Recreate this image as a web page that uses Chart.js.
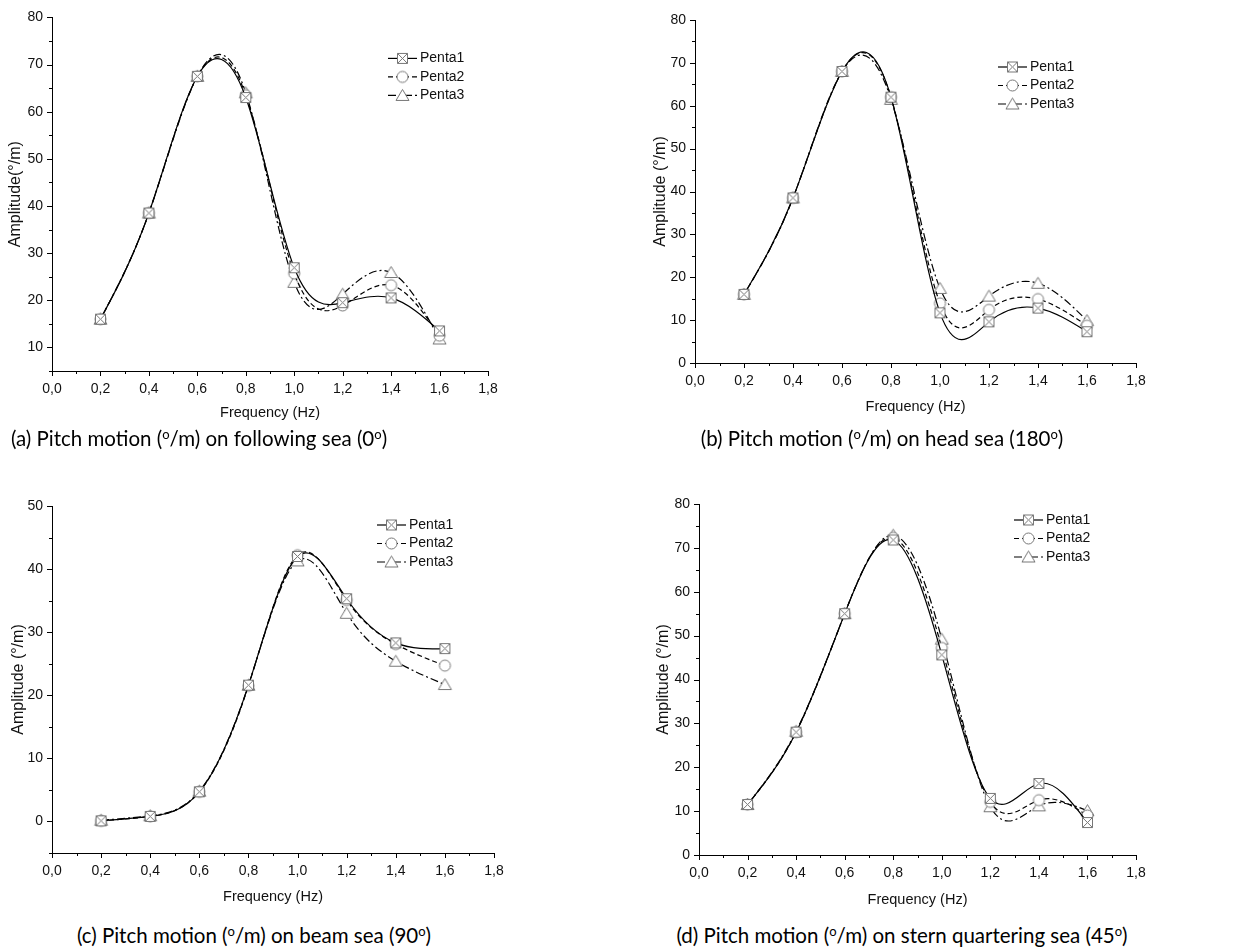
<!DOCTYPE html>
<html>
<head>
<meta charset="utf-8">
<script src="https://cdn.jsdelivr.net/npm/chart.js@4/dist/chart.umd.min.js"></script>
<style>
  body { margin: 0; background: #fff; width: 1257px; height: 951px; position: relative; overflow: hidden; }
  .box { position: absolute; }
  .cap { position: absolute; width: 600px; text-align: center; font-family: Lato, "Open Sans", sans-serif; font-size: 20.5px; line-height: 24px; color: #000; }
  .cap sup { font-size: 13px; vertical-align: 7px; line-height: 0; }
</style>
</head>
<body>
<div class="box" style="left:0;top:0"><canvas id="chartA" width="520" height="430"></canvas></div>
<div class="box" style="left:630px;top:0"><canvas id="chartB" width="540" height="430"></canvas></div>
<div class="box" style="left:0;top:460px"><canvas id="chartC" width="525" height="450"></canvas></div>
<div class="box" style="left:630px;top:460px"><canvas id="chartD" width="540" height="450"></canvas></div>

<div class="cap" style="left:-101px;top:426px">(a) Pitch motion (<sup>o</sup>/m) on following sea (0<sup>o</sup>)</div>
<div class="cap" style="left:582px;top:426px">(b) Pitch motion (<sup>o</sup>/m) on head sea (180<sup>o</sup>)</div>
<div class="cap" style="left:-46px;top:923px">(c) Pitch motion (<sup>o</sup>/m) on beam sea (90<sup>o</sup>)</div>
<div class="cap" style="left:602px;top:923px">(d) Pitch motion (<sup>o</sup>/m) on stern quartering sea (45<sup>o</sup>)</div>

<script>
// frequencies (Hz)
const freq = [0.2, 0.4, 0.6, 0.8, 1.0, 1.2, 1.4, 1.6];
const seriesNames = ['Penta1', 'Penta2', 'Penta3'];

// (a) following sea 0
const followPenta1 = [16, 38.5, 67.5, 63, 26.9, 19.5, 20.5, 13.5];
const followPenta2 = [16, 38.5, 67.5, 63.5, 25.7, 18.9, 23.2, 12.5];
const followPenta3 = [16, 38.5, 67.5, 64, 23.8, 21.3, 25.9, 11.8];

// (b) head sea 180
const headPenta1 = [16, 38.5, 68, 62, 11.7, 9.6, 12.8, 7.3];
const headPenta2 = [16, 38.5, 68, 62, 13.9, 12.4, 14.9, 8.7];
const headPenta3 = [16, 38.5, 68, 61.5, 17.4, 15.6, 18.6, 9.9];

// (c) beam sea 90
const beamPenta1 = [0.1, 0.8, 4.7, 21.6, 42, 35.3, 28.3, 27.4];
const beamPenta2 = [0.1, 0.8, 4.7, 21.5, 42.2, 35.1, 28.1, 24.7];
const beamPenta3 = [0.2, 0.9, 4.8, 21.6, 41.3, 33.0, 25.4, 21.7];

// (d) stern quartering sea 45
const sternPenta1 = [11.5, 28, 55, 71.8, 45.6, 12.9, 16.3, 7.4];
const sternPenta2 = [11.5, 28, 55, 72.3, 47.2, 12.1, 12.5, 9.0];
const sternPenta3 = [11.5, 28.2, 55, 72.9, 49.2, 11.0, 11.2, 10.1];

const xTicks = [0, 0.2, 0.4, 0.6, 0.8, 1.0, 1.2, 1.4, 1.6, 1.8];

Chart.defaults.font.family = '"Liberation Sans", Arial, sans-serif';
Chart.defaults.color = '#111';
Chart.defaults.animation = false;

// markers drawn as small canvases
function makeMarker(kind) {
  const c = document.createElement('canvas');
  c.width = 17; c.height = 17;
  const g = c.getContext('2d');
  g.strokeStyle = '#777';
  g.fillStyle = '#fff';
  g.lineWidth = 1;
  g.beginPath();
  if (kind === 'box') {
    g.rect(3.5, 3.5, 10, 10);
    g.fill(); g.stroke();
    g.beginPath();
    g.moveTo(3.5, 3.5); g.lineTo(13.5, 13.5);
    g.moveTo(13.5, 3.5); g.lineTo(3.5, 13.5);
    g.stroke();
  } else if (kind === 'circle') {
    g.arc(8.5, 8.5, 5.5, 0, Math.PI * 2);
    g.fill(); g.stroke();
  } else {
    g.moveTo(8.5, 2.5); g.lineTo(15, 13.5); g.lineTo(2, 13.5); g.closePath();
    g.fill(); g.stroke();
  }
  return c;
}
const markers = [makeMarker('box'), makeMarker('circle'), makeMarker('tri')];
const dashes = [[], [5, 3], [8, 3, 2, 3]];

// natural cubic spline through the data points (replaces the default bezier shape)
const splinePlugin = {
  id: 'naturalSpline',
  beforeDatasetDraw(chart, args) {
    const meta = args.meta;
    meta.dataset.updateControlPoints(chart.chartArea, meta.iScale.axis);
    const pts = meta.data;
    const n = pts.length;
    if (n < 3) return;
    const x = pts.map(p => p.x), y = pts.map(p => p.y);
    const h = [];
    for (let i = 0; i < n - 1; i++) h.push(x[i + 1] - x[i]);
    const M = new Array(n).fill(0);
    const a = [], b = [], c = [], d = [];
    for (let i = 1; i < n - 1; i++) {
      a.push(h[i - 1]);
      b.push(2 * (h[i - 1] + h[i]));
      c.push(h[i]);
      d.push(6 * ((y[i + 1] - y[i]) / h[i] - (y[i] - y[i - 1]) / h[i - 1]));
    }
    const m = b.length;
    for (let i = 1; i < m; i++) {
      const w = a[i] / b[i - 1];
      b[i] -= w * c[i - 1];
      d[i] -= w * d[i - 1];
    }
    const sol = new Array(m);
    sol[m - 1] = d[m - 1] / b[m - 1];
    for (let i = m - 2; i >= 0; i--) sol[i] = (d[i] - c[i] * sol[i + 1]) / b[i];
    for (let i = 0; i < m; i++) M[i + 1] = sol[i];
    for (let i = 0; i < n; i++) {
      let s;
      if (i < n - 1) s = (y[i + 1] - y[i]) / h[i] - h[i] * (2 * M[i] + M[i + 1]) / 6;
      else s = (y[i] - y[i - 1]) / h[i - 1] + h[i - 1] * (M[i - 1] + 2 * M[i]) / 6;
      if (i > 0) { pts[i].cp1x = x[i] - h[i - 1] / 3; pts[i].cp1y = y[i] - s * h[i - 1] / 3; }
      if (i < n - 1) { pts[i].cp2x = x[i] + h[i] / 3; pts[i].cp2y = y[i] + s * h[i] / 3; }
    }
  }
};

// key with line + marker + name
const keyPlugin = {
  id: 'seriesKey',
  afterDraw(chart, args, opts) {
    const ctx = chart.ctx;
    const area = chart.chartArea;
    const x0 = area.right - opts.fromRight;
    ctx.save();
    chart.data.datasets.forEach((ds, i) => {
      const y = area.top + opts.fromTop + i * 18.5;
      ctx.strokeStyle = '#000';
      ctx.lineWidth = 1.2;
      ctx.setLineDash(ds.borderDash);
      ctx.beginPath();
      ctx.moveTo(x0, y);
      ctx.lineTo(x0 + 29, y);
      ctx.stroke();
      ctx.setLineDash([]);
      ctx.drawImage(ds.pointStyle, x0 + 14.5 - 8.5, y - 8.5);
      ctx.fillStyle = '#111';
      ctx.font = '14px "Liberation Sans", Arial, sans-serif';
      ctx.textBaseline = 'middle';
      ctx.fillText(ds.label, x0 + 32, y);
    });
    ctx.restore();
  }
};

// major and minor tick marks pointing outward
const tickMarks = {
  id: 'tickMarks',
  afterDraw(chart) {
    const ctx = chart.ctx;
    const area = chart.chartArea;
    const xs = chart.scales.x, ys = chart.scales.y;
    ctx.save();
    ctx.strokeStyle = '#000';
    ctx.lineWidth = 1;
    ctx.beginPath();
    xs.ticks.forEach(t => {
      const px = Math.round(xs.getPixelForValue(t.value)) + 0.5;
      const len = t.label !== '' ? 5 : 3;
      ctx.moveTo(px, area.bottom);
      ctx.lineTo(px, area.bottom + len);
    });
    ys.ticks.forEach(t => {
      const py = Math.round(ys.getPixelForValue(t.value)) + 0.5;
      const len = t.label !== '' ? 5 : 3;
      ctx.moveTo(area.left, py);
      ctx.lineTo(area.left - len, py);
    });
    ctx.stroke();
    ctx.restore();
  }
};

function buildChart(id, values, cfg) {
  const datasets = values.map((v, i) => ({
    label: seriesNames[i],
    data: freq.map((f, j) => ({ x: f, y: v[j] })),
    borderColor: '#000',
    borderWidth: 1.2,
    borderDash: dashes[i],
    pointStyle: markers[i],
    pointRadius: 6,
    tension: 0.4,
    fill: false
  }));
  return new Chart(document.getElementById(id), {
    type: 'line',
    data: { datasets },
    options: {
      responsive: false,
      devicePixelRatio: 1,
      layout: { padding: { top: cfg.padTop, right: cfg.padRight, left: 0, bottom: 0 } },
      plugins: {
        legend: { display: false },
        tooltip: { enabled: false },
        seriesKey: cfg.key
      },
      scales: {
        x: {
          type: 'linear',
          min: 0, max: 1.8,
          grid: { display: false, drawTicks: false },
          border: { display: true, color: '#000', width: 1 },
          afterBuildTicks(scale) {
            const out = [];
            for (let k = 0; k <= 18; k++) out.push({ value: k / 10 });
            scale.ticks = out;
          },
          ticks: {
            autoSkip: false,
            maxRotation: 0,
            padding: cfg.xPad,
            font: { size: 14 },
            callback(v) {
              const k = Math.round(v * 10);
              return xTicks.some(t => Math.round(t * 10) === k) ? (k / 10).toFixed(1).replace('.', ',') : '';
            }
          },
          title: {
            display: true,
            text: 'Frequency (Hz)',
            font: { size: 14.5 },
            color: '#111',
            padding: { top: 0, bottom: cfg.xTitlePad }
          },
          afterFit(scale) { scale.height = cfg.xHeight; }
        },
        y: {
          min: cfg.yMin, max: cfg.yMax,
          grid: { display: false, drawTicks: false },
          border: { display: true, color: '#000', width: 1 },
          ticks: {
            stepSize: 5,
            autoSkip: false,
            padding: 9,
            font: { size: 14 },
            callback(v) { return v % 10 === 0 ? String(v) : ''; }
          },
          title: {
            display: true,
            text: cfg.yTitle,
            font: { size: 16 },
            color: '#111',
            padding: { top: cfg.yTitlePad, bottom: 0 }
          },
          afterFit(scale) { scale.width = cfg.yWidth; }
        }
      }
    },
    plugins: [splinePlugin, keyPlugin, tickMarks]
  });
}

buildChart('chartA', [followPenta1, followPenta2, followPenta3], {
  yMin: 5, yMax: 80, yTitle: 'Amplitude(°/m)',
  padTop: 15, padRight: 32, yWidth: 52, xHeight: 59,
  xPad: 10, xTitlePad: 8, yTitlePad: 6,
  key: { fromRight: 100, fromTop: 41 }
});
buildChart('chartB', [headPenta1, headPenta2, headPenta3], {
  yMin: 0, yMax: 80, yTitle: 'Amplitude (°/m)',
  padTop: 20, padRight: 34, yWidth: 65, xHeight: 67,
  xPad: 10, xTitlePad: 14, yTitlePad: 21,
  key: { fromRight: 138, fromTop: 47 }
});
buildChart('chartC', [beamPenta1, beamPenta2, beamPenta3], {
  yMin: -5, yMax: 50, yTitle: 'Amplitude (°/m)',
  padTop: 46, padRight: 31, yWidth: 52, xHeight: 57,
  xPad: 10, xTitlePad: 4, yTitlePad: 9,
  key: { fromRight: 117, fromTop: 19 }
});
buildChart('chartD', [sternPenta1, sternPenta2, sternPenta3], {
  yMin: 0, yMax: 80, yTitle: 'Amplitude (°/m)',
  padTop: 44, padRight: 34, yWidth: 69, xHeight: 55,
  xPad: 10, xTitlePad: 1, yTitlePad: 24,
  key: { fromRight: 122, fromTop: 16 }
});
</script>
</body>
</html>
